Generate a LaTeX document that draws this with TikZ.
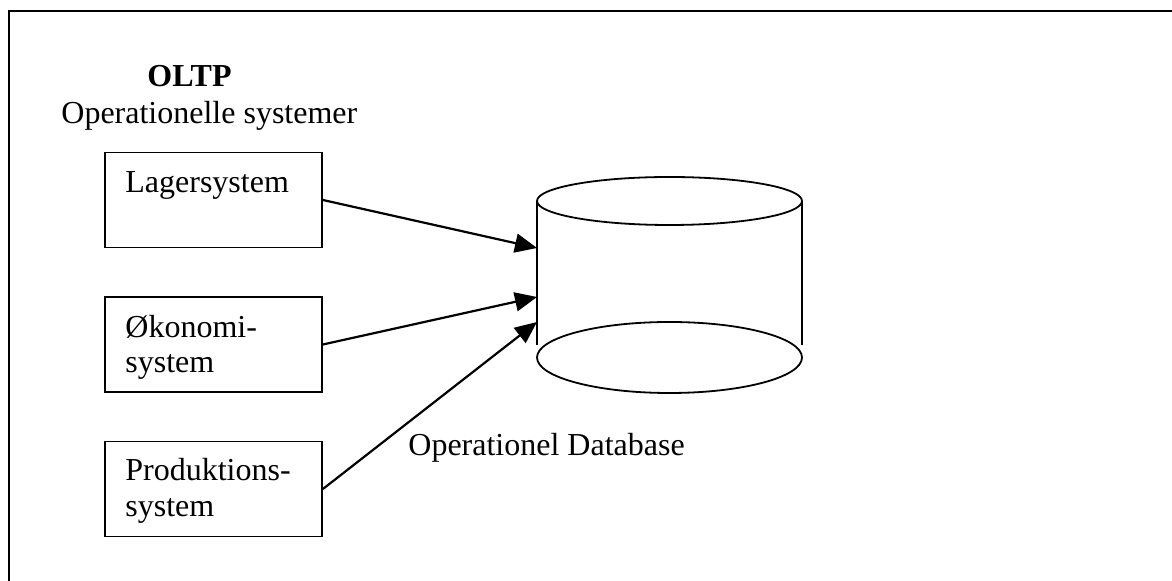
\documentclass[tikz,border=0pt]{standalone}
\usepackage{fontspec}
\setmainfont{Liberation Serif}
\usetikzlibrary{arrows.meta}

\tikzset{
  sysbox/.style={draw, line width=0.9pt, minimum width=108.5pt, minimum height=47.5pt, inner sep=0pt},
  feed/.style={line width=1.1pt, -{Triangle[length=11pt,width=9.5pt]}},
  txt/.style={anchor=base west, inner sep=0pt, font=\fontsize{16}{18}\selectfont}
}

\begin{document}
\begin{tikzpicture}[x=0.5pt,y=-0.5pt]
\useasboundingbox (0,0) rectangle (1172,581);
% frame
\draw[line width=1.1pt] (9,600) -- (9,11) -- (1180,11);
% headings
\node[txt, font=\fontsize{16}{18}\selectfont\bfseries] (oltp) at (147,87) {OLTP};
\node[txt] (opsys) at (61,124) {Operationelle systemer};
% systems
\node[sysbox] (lager) at (213.5,200) {};
\node[sysbox] (oko) at (213.5,344.5) {};
\node[sysbox] (prod) at (213.5,489) {};
\node[txt] (lagertxt) at (125,193) {Lagersystem};
\node[txt] (okotxt1) at (125,338) {Økonomi-};
\node[txt] (okotxt2) at (125,373) {system};
\node[txt] (prodtxt1) at (125,481) {Produktions-};
\node[txt] (prodtxt2) at (125,517) {system};
% database
\draw[line width=0.9pt] (669.5,201) ellipse [x radius=66.25pt, y radius=12pt];
\draw[line width=0.9pt] (669.5,357.5) ellipse [x radius=66.25pt, y radius=17.75pt];
\draw[line width=0.9pt] (537,201) -- (537,345);
\draw[line width=0.9pt] (802,201) -- (802,345);
\coordinate (db1) at (537,248);
\coordinate (db2) at (537,297);
\coordinate (db3) at (537,322);
\node[txt] (dbtxt) at (408,456) {Operationel Database};
% arrows
\draw[feed] (lager.east) -- (db1);
\draw[feed] (oko.east) -- (db2);
\draw[feed] (prod.east) -- (db3);
\end{tikzpicture}
\end{document}
